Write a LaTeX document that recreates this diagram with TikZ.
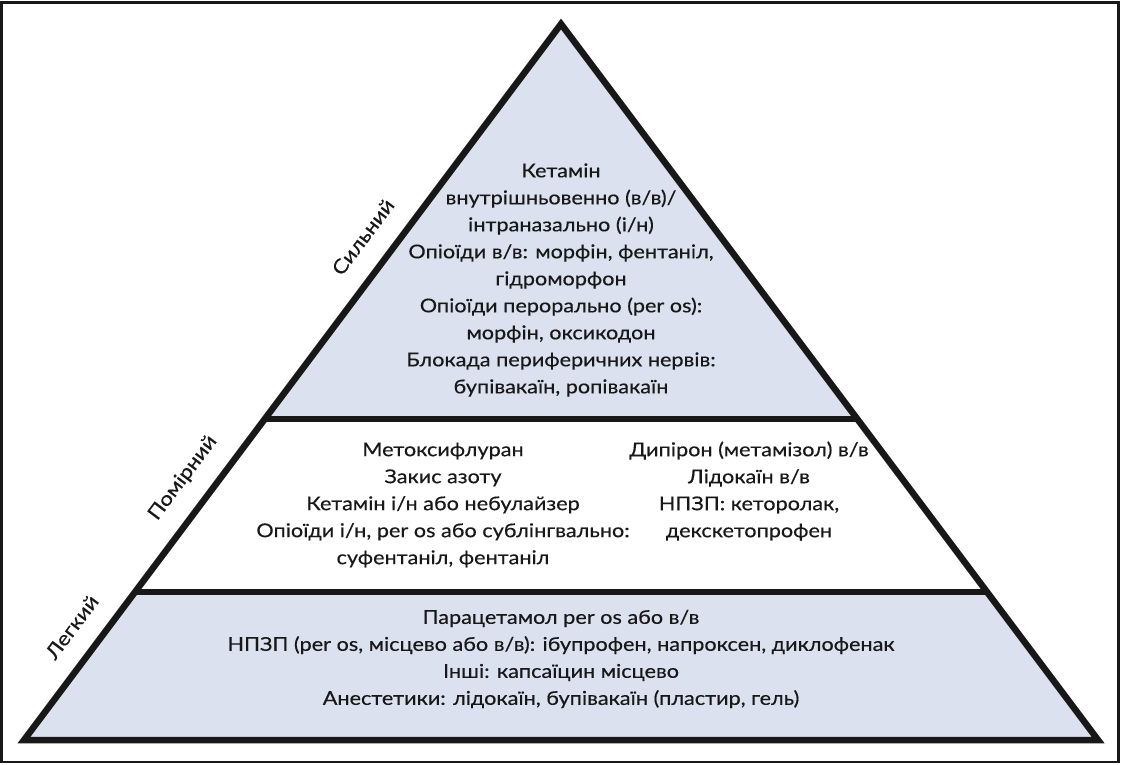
\documentclass[tikz,border=0pt]{standalone}
\usepackage{fontspec}
\setmainfont{Lato}[FakeStretch=1.14,FakeBold=0.4]
\definecolor{bandfill}{RGB}{220,225,240}
\definecolor{ink}{RGB}{24,24,24}
\begin{document}
\begin{tikzpicture}[x=1pt,y=-1pt,
  txt/.style={align=center,font=\fontsize{19}{27}\selectfont,text=ink,inner sep=0pt},
  lvl/.style={font=\fontsize{19.5}{22}\selectfont,text=ink,rotate=53.1,inner sep=0pt},
  edge/.style={draw=ink,line width=6.5pt,line join=miter}]
\useasboundingbox (0,0) rectangle (1121,765);
\draw[ink,line width=2.5pt] (1.5,2.5) rectangle (1118.5,762);
% fills
\fill[bandfill] (561,24) -- (264.6,419) -- (857.4,419) -- cycle;
\fill[bandfill] (134.7,592) -- (987.3,592) -- (1098,740) -- (24,740) -- cycle;
% outline
\draw[edge] (561,24) -- (1098,740) -- (24,740) -- cycle;
\draw[edge,line cap=butt] (264.6,419) -- (857.4,419);
\draw[edge,line cap=butt] (134.7,592) -- (987.3,592);
% texts
\node[txt] (top) at (561,280) {Кетамін\\внутрішньовенно (в/в)/\\інтраназально (і/н)\\Опіоїди в/в: морфін, фентаніл,\\гідроморфон\\Опіоїди перорально (per os):\\морфін, оксикодон\\Блокада периферичних нервів:\\бупівакаїн, ропівакаїн};
\node[txt] (midl) at (443,505) {Метоксифлуран\\Закис азоту\\Кетамін і/н або небулайзер\\Опіоїди і/н, per os або сублінгвально:\\суфентаніл, фентаніл};
\node[txt] (midr) at (749,491) {Дипірон (метамізол) в/в\\Лідокаїн в/в\\НПЗП: кеторолак,\\декскетопрофен};
\node[txt] (bot) at (561,659) {Парацетамол per os або в/в\\НПЗП (per os, місцево або в/в): ібупрофен, напроксен, диклофенак\\Інші: капсаїцин місцево\\Анестетики: лідокаїн, бупівакаїн (пластир, гель)};
% level labels
\node[lvl] (strong) at (363,237) {Сильний};
\node[lvl] (moderate) at (183,478) {Помірний};
\node[lvl] (mild) at (72,627) {Легкий};
\end{tikzpicture}
\end{document}
